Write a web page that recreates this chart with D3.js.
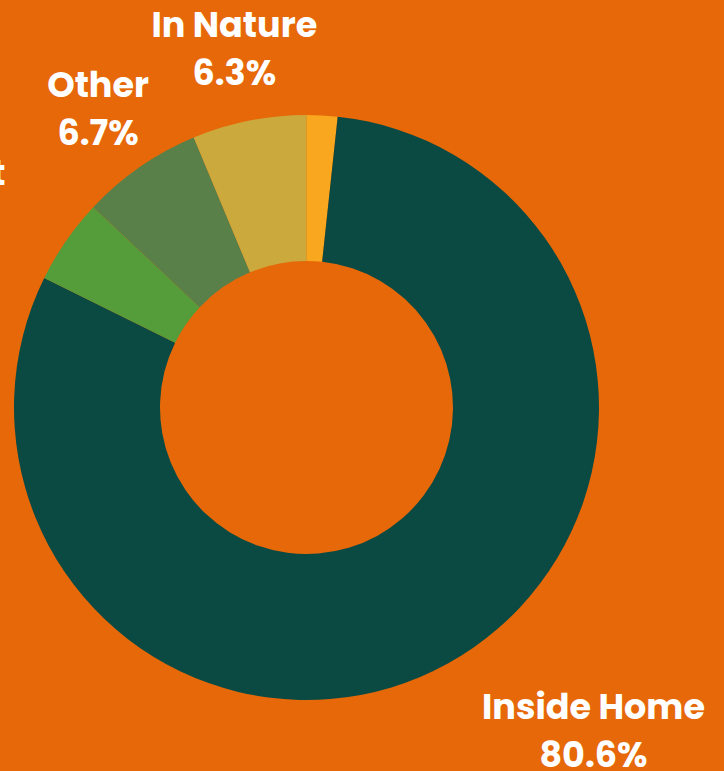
<!DOCTYPE html>
<html>
<head>
<meta charset="utf-8">
<script src="https://cdn.jsdelivr.net/npm/d3@7"></script>
<style>
  html, body { margin: 0; padding: 0; background: #E66809; }
  svg { display: block; }
</style>
</head>
<body>
<svg id="chart" width="724" height="771"></svg>
<script>
// ---- data (clockwise from 12 o'clock) ----
const categories = ["Unspecified", "Inside Home", "In Transit", "Other", "In Nature"];
const values = [1.7, 80.6, 4.7, 6.7, 6.3];
const colors = ["#F9A71E", "#0B4A42", "#559C3B", "#5A8049", "#CCA93D"];
const valueLabels = ["", "80.6%", "4.7%", "6.7%", "6.3%"];

// ---- layout ----
const W = 724, H = 771;
const cx = 306.5, cy = 407.5;
const outerR = 292.5, innerR = 146.5, labelR = 357;
const labelNudge = { "Inside Home": [115, 19], "In Transit": [-92, 1], "Other": [-5, 3], "In Nature": [-2, 0] };

const svg = d3.select("#chart");
svg.append("rect").attr("width", W).attr("height", H).attr("fill", "#E66809");

const data = categories.map((c, i) => ({ name: c, value: values[i], color: colors[i], pct: valueLabels[i] }));

const pie = d3.pie().value(d => d.value).sort(null);
const arc = d3.arc().innerRadius(innerR).outerRadius(outerR);
const labelArc = d3.arc().innerRadius(labelR).outerRadius(labelR);

const g = svg.append("g").attr("transform", `translate(${cx},${cy})`);
const arcs = pie(data);

g.selectAll("path.slice").data(arcs).join("path")
  .attr("class", "slice")
  .attr("d", arc)
  .attr("fill", d => d.data.color);

const labelled = arcs.filter(d => d.data.pct !== "");
const labels = g.selectAll("text.lbl").data(labelled).join("text")
  .attr("class", "lbl")
  .attr("text-anchor", "middle")
  .attr("fill", "#ffffff")
  .style("font-family", "Poppins, 'Open Sans', sans-serif")
  .style("font-weight", "700")
  .style("font-size", "35px")
  .attr("transform", d => {
    const [x, y] = labelArc.centroid(d);
    const n = labelNudge[d.data.name] || [0, 0];
    return `translate(${x + n[0]},${y + n[1]})`;
  });
labels.append("tspan").attr("x", 0).attr("y", -20).text(d => d.data.name);
labels.append("tspan").attr("x", 0).attr("y", 28).text(d => d.data.pct);
</script>
</body>
</html>
